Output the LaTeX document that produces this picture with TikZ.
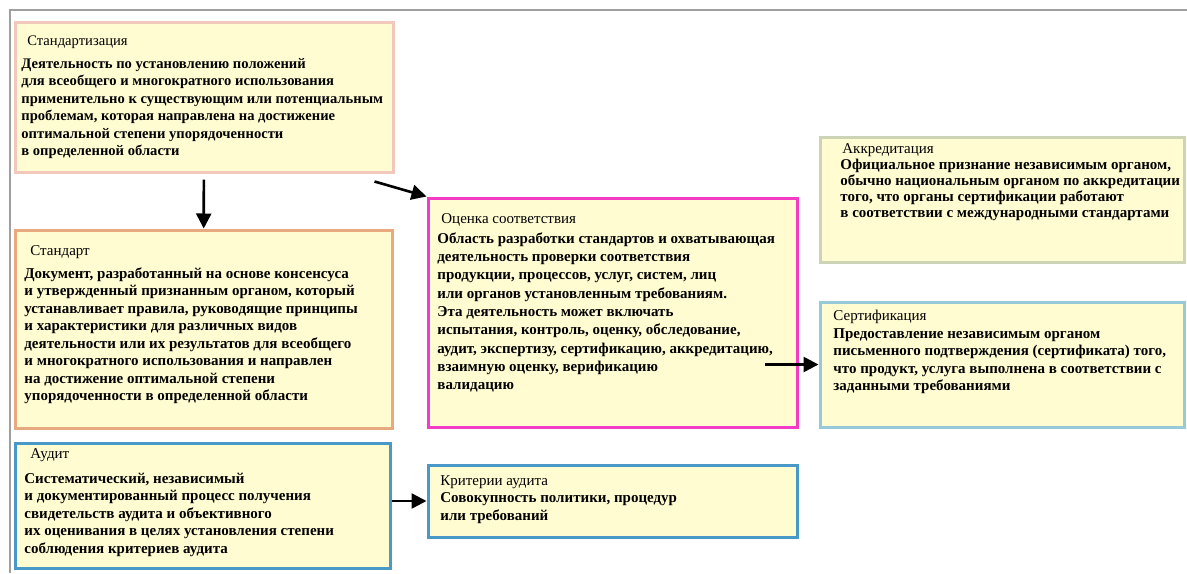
\documentclass[tikz,border=0pt]{standalone}
\usepackage{fontspec}
\setmainfont{Liberation Serif}
\usetikzlibrary{arrows.meta,fit,calc}

\definecolor{gelb}{RGB}{255,252,210}
\definecolor{rosa}{RGB}{242,200,188}
\definecolor{orange}{RGB}{232,168,128}
\definecolor{blau}{RGB}{72,152,200}
\definecolor{magenta}{RGB}{242,60,200}
\definecolor{oliv}{RGB}{205,212,182}
\definecolor{hellblau}{RGB}{150,202,216}

\begin{document}
\begin{tikzpicture}[x=0.5pt, y=-0.5pt,
    box/.style={draw, line width=1.5pt, fill=gelb, inner sep=0pt},
    txt/.style={anchor=north west, inner sep=0pt, align=left,
        font=\fontsize{7.5}{8.75}\selectfont\bfseries},
    pfeil/.style={-{Triangle[width=7.5pt,length=7.5pt]}, line width=1.3pt, black}]
    \useasboundingbox (0,0) rectangle (1187,573);

    % Rahmen
    \draw[gray!75, line width=1pt] (10,573) -- (10,10) -- (1187,10);

    % Standardisierung
    \node[box, draw=rosa, fit={(15,22) (393,172)}] (stdz) {};
    \node[txt, font=\fontsize{7.3}{8.75}\selectfont\bfseries] (stdz-t) at (21,35) {\hspace*{3pt}{\mdseries Стандартизация}\\[2.75pt]
        Деятельность по установлению положений\\
        для всеобщего и многократного использования\\
        применительно к существующим или потенциальным\\
        проблемам, которая направлена на достижение\\
        оптимальной степени упорядоченности\\
        в определенной области};

    % Standard
    \node[box, draw=orange, fit={(15,230) (392,428)}] (std) {};
    \node[txt] (std-t) at (24,245) {\hspace*{3pt}{\mdseries Стандарт}\\[2.75pt]
        Документ, разработанный на основе консенсуса\\
        и утвержденный признанным органом, который\\
        устанавливает правила, руководящие принципы\\
        и характеристики для различных видов\\
        деятельности или их результатов для всеобщего\\
        и многократного использования и направлен\\
        на достижение оптимальной степени\\
        упорядоченности в определенной области};

    % Audit
    \node[box, draw=blau, fit={(15,443) (390,568)}] (audit) {};
    \node[txt] (audit-t) at (24,448) {\hspace*{3pt}{\mdseries Аудит}\\[3.75pt]
        Систематический, независимый\\
        и документированный процесс получения\\
        свидетельств аудита и объективного\\
        их оценивания в целях установления степени\\
        соблюдения критериев аудита};

    % Konformitaet
    \node[box, draw=magenta, fit={(428,198) (797,427)}] (konf) {};
    \node[txt] (konf-t) at (437,213) {\hspace*{2pt}{\mdseries Оценка соответствия}\\[1.25pt]
        Область разработки стандартов и охватывающая\\[0.4pt]
        деятельность проверки соответствия\\[0.4pt]
        продукции, процессов, услуг, систем, лиц\\[0.4pt]
        или органов установленным требованиям.\\[0.4pt]
        Эта деятельность может включать\\[0.4pt]
        испытания, контроль, оценку, обследование,\\[0.4pt]
        аудит, экспертизу, сертификацию, аккредитацию,\\[0.4pt]
        взаимную оценку, верификацию\\[0.4pt]
        валидацию};

    % Kriterien
    \node[box, draw=blau, fit={(428,465) (797,537)}] (krit) {};
    \node[txt] (krit-t) at (440,475) {{\mdseries Критерии аудита}\\
        Совокупность политики, процедур\\
        или требований};

    % Akkreditierung
    \node[box, draw=oliv, fit={(820,137) (1184,262)}] (akk) {};
    \node[txt, font=\fontsize{7.5}{8}\selectfont\bfseries] (akk-t) at (840,143) {\hspace*{1pt}{\mdseries Аккредитация}\\
        Официальное признание независимым органом,\\
        обычно национальным органом по аккредитации\\
        того, что органы сертификации работают\\
        в соответствии с международными стандартами};

    % Zertifizierung
    \node[box, draw=hellblau, fit={(820,302) (1184,427)}] (zert) {};
    \node[txt] (zert-t) at (833,310) {{\mdseries Сертификация}\\
        Предоставление независимым органом\\
        письменного подтверждения (сертификата) того,\\
        что продукт, услуга выполнена в соответствии с\\
        заданными требованиями};

    % Pfeile
    \draw[pfeil, shorten <=3pt] (stdz) -- (std);
    \draw[pfeil] ($(stdz.south east)+(-20,8)$) -- (konf.north west);
    \coordinate (kstart) at (765,364.5);
    \draw[pfeil] (kstart) -- (zert.west);
    \draw[pfeil] (audit.east |- krit.west) -- (krit.west);
\end{tikzpicture}
\end{document}
